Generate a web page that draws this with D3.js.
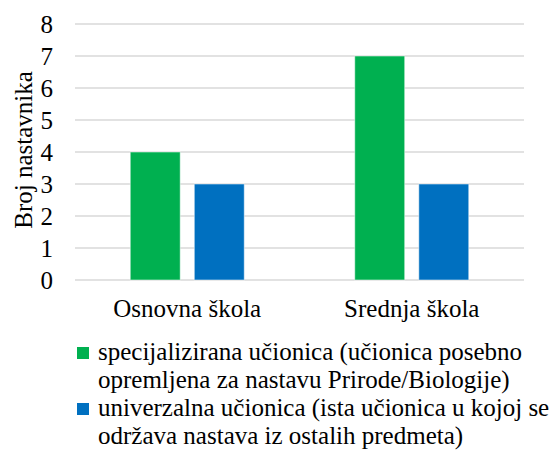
<!DOCTYPE html>
<html>
<head>
<meta charset="utf-8">
<script src="https://cdn.jsdelivr.net/npm/d3@7"></script>
<style>
  body { margin: 0; background: #fff; }
  svg text { font-family: "Liberation Serif", "Times New Roman", serif; fill: #000; }
</style>
</head>
<body>
<div id="chart"></div>
<script>
// data
var categories = ["Osnovna škola", "Srednja škola"];
var seriesNames = ["specijalizirana", "univerzalna"];
var specijalizirana = [4, 7];
var univerzalna = [3, 3];
var yTicks = [0, 1, 2, 3, 4, 5, 6, 7, 8];
var legendLines = [
  ["specijalizirana učionica (učionica posebno", "opremljena za nastavu Prirode/Biologije)"],
  ["univerzalna učionica (ista učionica u kojoj se", "održava nastava iz ostalih predmeta)"]
];

var width = 552, height = 450;
var margin = { top: 24, left: 75, right: 28 };
var plotH = 256;
var fontSize = "25px";
var color = d3.scaleOrdinal().domain(seriesNames).range(["#00B050", "#0070C0"]);

var svg = d3.select("#chart").append("svg")
  .attr("width", width)
  .attr("height", height)
  .attr("font-family", "Liberation Serif, serif");

var x = d3.scaleBand()
  .domain(categories)
  .range([margin.left, width - margin.right]);

var x1 = d3.scaleBand()
  .domain(seriesNames)
  .range([0, 114])
  .paddingInner(0.22);

var y = d3.scaleLinear()
  .domain([0, 8])
  .range([margin.top + plotH, margin.top]);

// gridlines
svg.append("g")
  .selectAll("line")
  .data(yTicks)
  .enter().append("line")
  .attr("x1", margin.left)
  .attr("x2", width - margin.right)
  .attr("y1", function(d) { return y(d); })
  .attr("y2", function(d) { return y(d); })
  .attr("stroke", "#d9d9d9")
  .attr("stroke-width", 1.5);

// y axis labels
var yAxis = d3.axisLeft(y).tickValues(yTicks).tickSize(0).tickPadding(22);
var ya = svg.append("g")
  .attr("transform", "translate(" + margin.left + ",0)")
  .call(yAxis)
  .attr("font-family", null)
  .attr("font-size", null);
ya.select(".domain").remove();
ya.selectAll("text")
  .style("font-size", fontSize)
  .attr("dy", "0.34em");

svg.append("text")
  .attr("transform", "translate(32," + (margin.top + plotH / 2 - 2) + ") rotate(-90)")
  .attr("text-anchor", "middle")
  .style("font-size", fontSize)
  .text("Broj nastavnika");

// bars
var rows = categories.map(function(c, i) {
  return { cat: c, values: [
    { key: "specijalizirana", value: specijalizirana[i] },
    { key: "univerzalna", value: univerzalna[i] }
  ] };
});

var groups = svg.selectAll(".grp")
  .data(rows)
  .enter().append("g")
  .attr("class", "grp")
  .attr("transform", function(d) {
    return "translate(" + (x(d.cat) + x.bandwidth() / 2 - 57) + ",0)";
  });

groups.selectAll("rect")
  .data(function(d) { return d.values; })
  .enter().append("rect")
  .attr("x", function(d) { return x1(d.key); })
  .attr("y", function(d) { return y(d.value); })
  .attr("width", x1.bandwidth())
  .attr("height", function(d) { return y(0) - y(d.value); })
  .attr("fill", function(d) { return color(d.key); })
  .attr("stroke", "rgba(255,255,255,0.5)")
  .attr("stroke-width", 1);

// x axis labels
var xAxis = d3.axisBottom(x).tickSize(0).tickPadding(0);
var xa = svg.append("g")
  .attr("transform", "translate(0," + (margin.top + plotH) + ")")
  .call(xAxis)
  .attr("font-family", null)
  .attr("font-size", null);
xa.select(".domain").remove();
xa.selectAll("text")
  .style("font-size", fontSize)
  .attr("y", 37)
  .attr("dy", 0);

// legend
var legend = svg.selectAll(".leg")
  .data(seriesNames)
  .enter().append("g")
  .attr("class", "leg")
  .attr("transform", function(d, i) { return "translate(77," + (360 + i * 56) + ")"; });

legend.append("rect")
  .attr("x", 0)
  .attr("y", -13)
  .attr("width", 12)
  .attr("height", 12)
  .attr("fill", function(d) { return color(d); });

legend.each(function(d, i) {
  var t = d3.select(this).append("text")
    .attr("x", 21)
    .style("font-size", fontSize);
  t.selectAll("tspan")
    .data(legendLines[i])
    .enter().append("tspan")
    .attr("x", 21)
    .attr("dy", function(l, j) { return j === 0 ? 0 : 27.5; })
    .text(function(l) { return l; });
});
</script>
</body>
</html>
